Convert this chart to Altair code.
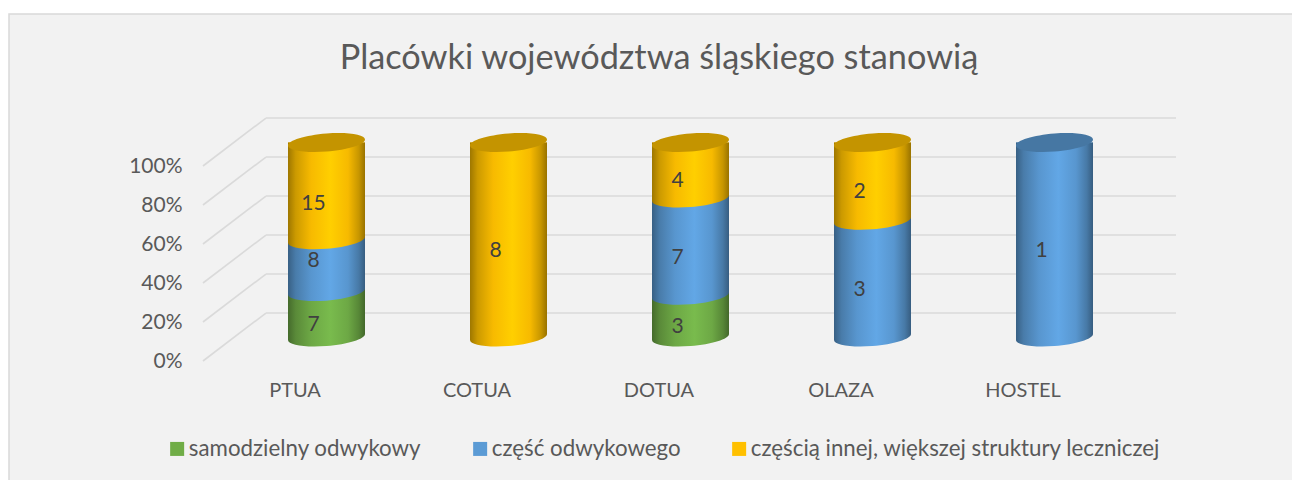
import altair as alt
import pandas as pd

categories = ["PTUA", "COTUA", "DOTUA", "OLAZA", "HOSTEL"]
series = ["samodzielny odwykowy", "część odwykowego", "częścią innej, większej struktury leczniczej"]
samodzielny = [7, 0, 3, 0, 0]
czesc = [8, 0, 7, 3, 1]
inna = [15, 8, 4, 2, 0]
levels = [0, 20, 40, 60, 80, 100]
label_nudge = {("PTUA", 0): 0.0, ("PTUA", 1): 8.2, ("PTUA", 2): -1.0}

colors = ["#70ad47", "#5b9bd5", "#ffc000"]
top_colors = ["#557f36", "#4677a3", "#c49400"]
FONT = "Lato"
TXT = "#595959"

W, H = 1300, 480
TOP, LEFT = 14, 9

rows = []
for i, c in enumerate(categories):
    vals = [samodzielny[i], czesc[i], inna[i]]
    tot = sum(vals)
    acc = 0
    for j, v in enumerate(vals):
        if v == 0:
            continue
        s, e = acc / tot * 100, (acc + v) / tot * 100
        acc += v
        rows.append(dict(cat=c, series=series[j], idx=j, value=v, start=s, end=e,
                         bottom=s + 2.05, top=e + (2.05 if e < 99.99 else 0),
                         mid=(s + e) / 2 + label_nudge.get((c, j), 0), is_top=e > 99.99))
df = pd.DataFrame(rows)
wall = pd.DataFrame({"level": levels})
wall["back"] = wall["level"] + 24.6
wall["x0"] = 0.0
wall["x1"] = 0.0647
wall["x2"] = 1.0

def shade(hexc, f):
    r, g, b = [int(hexc[i:i + 2], 16) for i in (1, 3, 5)]
    return "#%02x%02x%02x" % tuple(min(255, int(round(v * f))) for v in (r, g, b))

def grad(c):
    stops = [(0, .62), (.1, .8), (.3, .97), (.55, 1.08), (.78, .97), (.92, .78), (1, .6)]
    return alt.LinearGradient(gradient="linear", x1=0, x2=1, y1=0, y2=0,
                              stops=[alt.GradientStop(offset=o, color=shade(c, f)) for o, f in stops])

k, b, kap, h = -0.078, 0.234, 0.5523, 0.14
f = lambda *a: " ".join("%.4f" % v for v in a)
lower = (f"M{f(-1, -k)} C{f(-1, -k + kap * b, -kap, b - kap * k, 0, b)} "
         f"C{f(kap, b + kap * k, 1, k + kap * b, 1, k)}")
cap_shape = lower + f" L{f(1, -h)} L{f(-1, -h)} Z"
top_shape = lower + (f" C{f(1, k - kap * b, kap, -b + kap * k, 0, -b)} "
                     f"C{f(-kap, -b - kap * k, -1, -k - kap * b, -1, -k)} Z")

step = 182
c0 = 326.5 - LEFT
xrange_ = [c0 - step / 2, c0 + 4.5 * step]
BW = 77

def xs(axis=None):
    return alt.X("cat:N", scale=alt.Scale(domain=categories, range=xrange_, paddingInner=0, paddingOuter=0),
                 axis=axis, title=None)

def ybar(field):
    return alt.Y(field, scale=alt.Scale(domain=[0, 100], range=[337 - TOP, 142.5 - TOP]), axis=None, title=None)

y2 = lambda field: alt.Y2(field)
wx = alt.Scale(domain=[0, 1], range=[203 - LEFT, 1176 - LEFT])
wy = alt.Scale(domain=[0, 100], range=[361 - TOP, 166 - TOP])
GRID = "#dadada"

diag = alt.Chart(wall).mark_rule(color=GRID, strokeWidth=1.6).encode(
    x=alt.X("x0:Q", scale=wx, axis=None), x2="x1:Q",
    y=alt.Y("level:Q", scale=wy, title=None,
            axis=alt.Axis(values=levels, labelExpr="datum.value + '%'", offset=-(182 - LEFT), domain=False, ticks=False,
                          grid=False, labelPadding=0, labelFontSize=21, labelColor=TXT, labelFont=FONT)),
    y2="back:Q")
back = alt.Chart(wall).mark_rule(color=GRID, strokeWidth=1.6).encode(
    x=alt.X("x1:Q", scale=wx, axis=None), x2="x2:Q",
    y=alt.Y("back:Q", scale=wy, axis=None))

solid = alt.Chart(df).mark_bar(size=BW).encode(
    x=xs(alt.Axis(offset=-(TOP + H - 378), domain=False, ticks=False, grid=False, labelAngle=0, labelOffset=-31.5,
                  labelPadding=2, labelFontSize=20, labelColor=TXT, labelFont=FONT)),
    y=ybar("top:Q"), y2=y2("bottom:Q"),
    color=alt.Color("series:N", scale=alt.Scale(domain=series, range=colors), sort=series,
                    legend=alt.Legend(title=None, orient="none", legendX=166 - LEFT, legendY=437.5 - TOP,
                                      direction="horizontal", columns=3, symbolType="square", symbolSize=196,
                                      symbolStrokeWidth=0, labelFontSize=22.3, labelFont=FONT, labelColor=TXT,
                                      labelOffset=0.5, columnPadding=47, labelLimit=600)))

layers = [diag, back, solid]
for j, s in enumerate(series):
    d = df[df["idx"] == j]
    layers.append(alt.Chart(d).mark_bar(size=BW, fill=grad(colors[j])).encode(
        x=xs(), y=ybar("top:Q"), y2=y2("bottom:Q")))
    layers.append(alt.Chart(d).mark_point(shape=cap_shape, size=BW ** 2, filled=True, fill=grad(colors[j]),
                                          opacity=1, strokeWidth=0).encode(x=xs(), y=ybar("start:Q")))
    dt = d[d["is_top"]]
    if len(dt):
        layers.append(alt.Chart(dt).mark_point(shape=top_shape, size=BW ** 2, filled=True, fill=top_colors[j],
                                               opacity=1, strokeWidth=0).encode(x=xs(), y=ybar("end:Q")))

labels = alt.Chart(df).mark_text(font=FONT, fontSize=21, color="#404040", xOffset=-13, yOffset=11).encode(
    x=xs(), y=ybar("mid:Q"), text="value:Q")
layers.append(labels)

chart = alt.layer(*layers).resolve_scale(x="independent", y="independent", color="shared").properties(
    width=W, height=H,
    padding={"left": 1, "top": 6, "right": -17, "bottom": 0},
    autosize=alt.AutoSizeParams(type="none"),
    title=alt.TitleParams("Placówki województwa śląskiego stanowią", font=FONT, fontSize=34.3, fontWeight="normal",
                          color=TXT, anchor="middle", dy=66),
).configure_view(fill="#f2f2f2", stroke="#d9d9d9", strokeWidth=1.5)

chart.save("out.html", embed_options={"renderer": "svg", "actions": False})
